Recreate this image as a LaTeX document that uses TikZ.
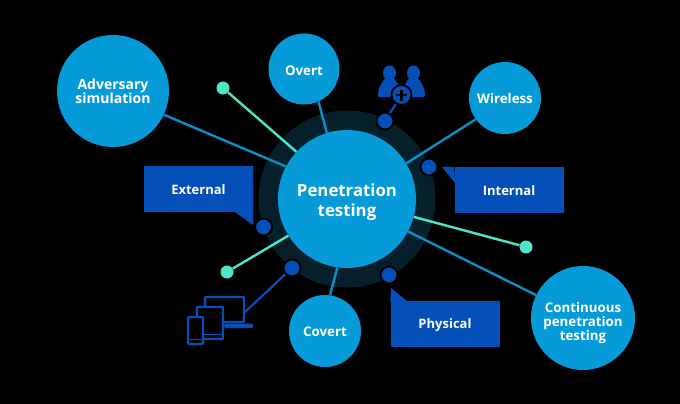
\documentclass[tikz,border=0pt]{standalone}
\usepackage{fontspec}
\setmainfont{Open Sans}
\definecolor{corec}{HTML}{069BD8}
\definecolor{ringc}{HTML}{05202B}
\definecolor{royal}{HTML}{0550B8}
\definecolor{mint}{HTML}{4FE6C8}
\definecolor{wire}{HTML}{0A8FC8}
\newcommand\lowerstrut[1]{\rule{0pt}{#1pt}}
\tikzset{
  hub/.style={circle,fill=corec,text=white,font=\bfseries\fontsize{13.3}{14}\selectfont,align=center,inner sep=0pt},
  tag/.style={rectangle,fill=royal,text=white,font=\bfseries\fontsize{13}{14}\selectfont,minimum width=109pt,minimum height=46pt,inner sep=0pt},
  dotblue/.style={circle,fill=royal,draw=black,line width=2pt,minimum size=17pt,inner sep=0pt},
  dotmint/.style={circle,fill=mint,minimum size=13pt,inner sep=0pt},
  spoke/.style={wire,line width=2.4pt},
  mintline/.style={mint,line width=2.4pt},
  iconline/.style={royal,line width=2.2pt},
  device/.style={draw=royal,fill=black,line width=2.4pt,rounded corners=0.8pt},
  tagtip/.style={fill=royal},
}
\begin{document}
\begin{tikzpicture}[x=1pt,y=-1pt]
\fill[black] (0,0) rectangle (680,404);
\node[circle,fill=ringc,minimum size=177pt,inner sep=0pt] (ring) at (347,199) {};
\node[hub,minimum size=138pt,font=\bfseries\fontsize{16.8}{20}\selectfont] (core) at (347,199) {\lowerstrut{18.5}Penetration\\testing};
\node[hub,minimum size=112pt,font=\bfseries\fontsize{14}{14}\selectfont] (adv) at (113,91) {\lowerstrut{12}Adversary\\simulation};
\node[hub,minimum size=71pt] (overt) at (304,69) {\lowerstrut{13}Overt};
\node[hub,minimum size=72pt] (wireless) at (505,98) {\lowerstrut{11.5}Wireless};
\node[hub,minimum size=72pt] (covert) at (325,331) {\lowerstrut{11.5}Covert};
\node[hub,minimum size=104pt] (cont) at (583,318) {\lowerstrut{21}Continuous\\penetration\\testing};
% spokes
\draw[spoke] (adv.-25) -- (core.152);
\draw[spoke] (overt.-66) -- (core.107);
\draw[spoke] (wireless.216) -- (core.31);
\draw[spoke] (covert.82) -- (core.262);
\draw[spoke] (cont.154) -- (core.-28);
% mint dots
\node[dotmint] (m1) at (223,88) {};
\node[dotmint] (m2) at (227,272) {};
\node[dotmint] (m3) at (526,247) {};
\draw[mintline] (m1) -- (core.137);
\draw[mintline] (m2) -- (core.212);
\draw[mintline] (m3) -- (core.-15);
% callouts
\node[tag] (ext) at (198.5,189) {\lowerstrut{12}External};
\fill[tagtip] (ext.north east) -- (253,225) -- (235,212) -- cycle;
\node[tag] (int) at (509,190) {\lowerstrut{12}Internal};
\fill[tagtip] (int.north west) -- (442,167) -- (455,183) -- cycle;
\node[tag] (phy) at (445,324) {\lowerstrut{12}Physical};
\fill[tagtip] (phy.north west) -- (391,288) -- (407,301) -- cycle;
% people icon
\fill[royal] (389.5,73) ellipse (6.5pt and 7.5pt);
\fill[royal] (413.5,73) ellipse (6.5pt and 7.5pt);
\fill[royal,rounded corners=2pt] (378,97) .. controls (378,88) and (381,84) .. (385,78) -- (394,78) .. controls (398,84) and (401,88) .. (401,97) -- cycle;
\fill[royal,rounded corners=2pt] (402,97) .. controls (402,88) and (405,84) .. (409,78) -- (418,78) .. controls (422,84) and (425,88) .. (425,97) -- cycle;
\node[circle,fill=royal,draw=black,line width=2pt,minimum size=20pt,inner sep=0pt] (plusc) at (401.5,95) {};
\fill[black] (400.2,89.5) rectangle (402.8,100.5);
\fill[black] (396,93.7) rectangle (407,96.3);
\node[dotblue] (d1) at (385,121) {};
\draw[iconline] (d1) -- (plusc);
% devices icon
\draw[device] (205,297) rectangle (244,322);
\fill[royal,rounded corners=1.5pt] (224,323.5) rectangle (253,328);
\draw[device] (197,307) rectangle (223,339);
\draw[royal,line width=1.8pt] (197,334.5) -- (223,334.5);
\draw[device] (188,317) rectangle (203,344);
\draw[royal,line width=1.8pt] (188,339.5) -- (203,339.5);
\coordinate (devs) at (245,312);
\node[dotblue] (d2) at (292,268) {};
\draw[iconline] (d2) -- (devs);
% other dots
\node[dotblue] (d3) at (429,167) {};
\node[dotblue] (d4) at (263.5,227) {};
\node[dotblue] (d5) at (389,275) {};
\end{tikzpicture}
\end{document}
